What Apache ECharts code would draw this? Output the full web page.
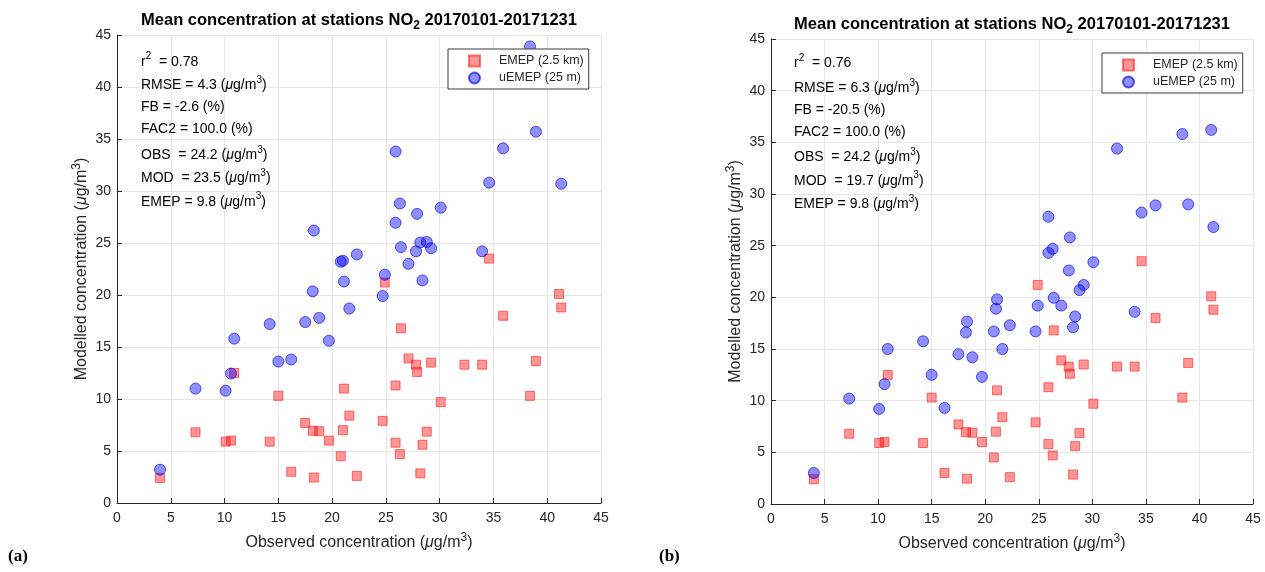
<!DOCTYPE html>
<html><head><meta charset="utf-8">
<script src="https://cdn.jsdelivr.net/npm/echarts@6/dist/echarts.min.js"></script>
<style>html,body{margin:0;padding:0;background:#fff}#c{width:1265px;height:572px}</style>
</head><body><div id="c"></div>
<script>
// ---- data ----
const obs = [4.0, 7.3, 10.1, 10.6, 10.9, 14.2, 15.0, 16.2, 17.5, 18.2, 18.3, 18.8, 19.7, 20.8, 21.0, 21.1, 21.6, 22.3, 24.7, 24.9,
             25.9, 25.9, 26.3, 26.4, 27.1, 27.8, 27.9, 28.2, 28.4, 28.8, 29.2, 30.1, 32.3, 33.95, 34.6, 35.9, 38.4, 38.95, 41.1, 41.3];
const emep = [2.4, 6.8, 5.9, 6.0, 12.5, 5.9, 10.3, 3.0, 7.7, 6.95, 2.45, 6.9, 6.0, 4.5, 7.0, 11.0, 8.4, 2.6, 7.9, 21.2,
              11.3, 5.8, 4.7, 16.8, 13.9, 13.3, 12.6, 2.85, 5.6, 6.86, 13.5, 9.7, 13.3, 13.3, 23.5, 18.0, 10.3, 13.65, 20.1, 18.8];
const uemepA = [3.2, 11.0, 10.8, 12.45, 15.8, 17.2, 13.6, 13.8, 17.4, 20.35, 26.2, 17.8, 15.6, 23.2, 23.3, 21.3, 18.7, 23.9, 19.9, 21.95,
                33.8, 26.95, 28.8, 24.6, 23.0, 24.2, 27.8, 25.05, 21.4, 25.1, 24.5, 28.4, 40.8, 24.2, 30.8, 34.1, 43.9, 35.7, 41.6, 30.7];
const uemepB = [3.0, 10.2, 9.2, 11.6, 15.0, 15.75, 12.5, 9.3, 14.5, 16.6, 17.65, 14.2, 12.3, 16.7, 18.9, 19.8, 15.0, 17.3, 16.7, 19.2,
                27.8, 24.3, 24.7, 19.95, 19.2, 22.6, 25.8, 17.1, 18.15, 20.7, 21.2, 23.4, 34.4, 18.6, 28.2, 28.9, 35.8, 29.0, 36.2, 26.8];
const seriesNames = ['EMEP (2.5 km)', 'uEMEP (25 m)'];
const axisMin = 0, axisMax = 45, axisStep = 5;
const titleStr = '{t|Mean concentration at stations NO}{sub|2}{t| 20170101-20171231}';
const xName = '{t|Observed concentration (}{mu|μ}{t|g/m}{sup|3}{t|)}';
const yName = '{t|Modelled concentration (}{mu|μ}{t|g/m}{sup|3}{t|)}';
const statsA = ['{t|r}{sup|2}{t|  = 0.78}', '{t|RMSE = 4.3 (}{mu|μ}{t|g/m}{sup|3}{t|)}', '{t|FB = -2.6 (%)}', '{t|FAC2 = 100.0 (%)}',
                '{t|OBS  = 24.2 (}{mu|μ}{t|g/m}{sup|3}{t|)}', '{t|MOD  = 23.5 (}{mu|μ}{t|g/m}{sup|3}{t|)}', '{t|EMEP = 9.8 (}{mu|μ}{t|g/m}{sup|3}{t|)}'];
const statsB = ['{t|r}{sup|2}{t|  = 0.76}', '{t|RMSE = 6.3 (}{mu|μ}{t|g/m}{sup|3}{t|)}', '{t|FB = -20.5 (%)}', '{t|FAC2 = 100.0 (%)}',
                '{t|OBS  = 24.2 (}{mu|μ}{t|g/m}{sup|3}{t|)}', '{t|MOD  = 19.7 (}{mu|μ}{t|g/m}{sup|3}{t|)}', '{t|EMEP = 9.8 (}{mu|μ}{t|g/m}{sup|3}{t|)}'];
const panelLabels = ['(a)', '(b)'];

// ---- styling / layout ----
const FF = '"Liberation Sans", Arial, Helvetica, sans-serif';
const TXT = '#262626';
const statsYA = [61.7, 85, 107.3, 129.3, 155, 178.3, 201.7];
const statsYB = [63.3, 88.3, 110, 131.7, 157.3, 180.7, 204];

function richSet(size, lh) {
  return {
    t: {fontFamily: FF, fontSize: size, color: TXT, lineHeight: lh},
    mu: {fontFamily: FF, fontSize: size, color: TXT, lineHeight: lh, fontStyle: 'italic'},
    sup: {fontFamily: FF, fontSize: Math.round(size * 0.72), color: TXT, lineHeight: Math.round(size * 0.8), verticalAlign: 'top'},
    sub: {fontFamily: FF, fontSize: Math.round(size * 0.72), color: TXT, lineHeight: Math.round(size * 0.6), verticalAlign: 'bottom'}
  };
}

function makeAxis(type, gi) {
  return {
    type: 'value', gridIndex: gi, min: axisMin, max: axisMax, interval: axisStep,
    name: type === 'x' ? xName : yName,
    nameLocation: 'middle', nameGap: type === 'x' ? 29 : 24,
    nameTextStyle: {rich: richSet(16, 22)},
    axisLine: {show: true, onZero: false, lineStyle: {color: TXT, width: 1}},
    axisTick: {show: true, inside: true, length: 5, lineStyle: {color: TXT}},
    axisLabel: {color: TXT, fontSize: 14, fontFamily: FF, margin: type === 'x' ? 8 : 6, showMinLabel: true, showMaxLabel: true},
    splitLine: {show: true, lineStyle: {color: '#e6e6e6', width: 1}}
  };
}

const redStyle = {color: 'rgba(255,0,0,0.52)', borderColor: 'rgba(255,30,30,0.75)', borderWidth: 1};
const blueStyle = {color: 'rgba(0,0,255,0.55)', borderColor: 'rgba(0,0,220,0.8)', borderWidth: 1};

function pairs(ys) { return obs.map((x, i) => [x, ys[i]]); }

function legendAt(left, top) {
  return {
    orient: 'vertical', left: left, top: top, padding: [5, 5, 4, 20], itemGap: 3,
    itemWidth: 11, itemHeight: 11, backgroundColor: '#fff', borderColor: '#3a3a3a', borderWidth: 1,
    selectedMode: false, z: 10,
    textStyle: {fontFamily: FF, fontSize: 12.5, color: TXT, lineHeight: 14, padding: [0, 0, 0, 14]},
    data: [{name: seriesNames[0], icon: 'rect'}, {name: seriesNames[1], icon: 'circle'}]
  };
}

const graphics = [];
function addText(x, y, text, rich, align) {
  graphics.push({type: 'text', x: x, y: y, z: 20, silent: true,
    style: {text: text, rich: rich, align: align || 'left', verticalAlign: 'middle'}});
}
const titleRich = richSet(16.5, 22);
titleRich.t.fontWeight = 'bold'; titleRich.sub.fontWeight = 'bold';
titleRich.t.color = '#000'; titleRich.sub.color = '#000';
addText(359, 20.5, titleStr, titleRich, 'center');
addText(1012, 24.5, titleStr, titleRich, 'center');
const statRich = richSet(14, 20);
statRich.t.color = '#000'; statRich.mu.color = '#000'; statRich.sup.color = '#000';
statsA.forEach((s, i) => addText(141, statsYA[i], s, statRich, 'left'));
statsB.forEach((s, i) => addText(794, statsYB[i], s, statRich, 'left'));
graphics.push({type: 'text', x: 8, y: 557, style: {text: panelLabels[0], font: 'bold 17px "Liberation Serif", "Times New Roman", serif', fill: '#000', verticalAlign: 'middle'}});
graphics.push({type: 'text', x: 659, y: 557, style: {text: panelLabels[1], font: 'bold 17px "Liberation Serif", "Times New Roman", serif', fill: '#000', verticalAlign: 'middle'}});

const option = {
  animation: false,
  backgroundColor: '#fff',
  grid: [
    {left: 117, top: 35, width: 484, height: 468},
    {left: 771, top: 39, width: 482, height: 465}
  ],
  xAxis: [makeAxis('x', 0), makeAxis('x', 1)],
  yAxis: [makeAxis('y', 0), makeAxis('y', 1)],
  legend: [legendAt(448, 49), legendAt(1102, 53)],
  series: [
    {name: seriesNames[0], type: 'scatter', xAxisIndex: 0, yAxisIndex: 0, symbol: 'rect', symbolSize: 9, itemStyle: redStyle, data: pairs(emep), z: 2},
    {name: seriesNames[1], type: 'scatter', xAxisIndex: 0, yAxisIndex: 0, symbol: 'circle', symbolSize: 11, itemStyle: blueStyle, data: pairs(uemepA), z: 3},
    {name: seriesNames[0], type: 'scatter', xAxisIndex: 1, yAxisIndex: 1, symbol: 'rect', symbolSize: 9, itemStyle: redStyle, data: pairs(emep), z: 2},
    {name: seriesNames[1], type: 'scatter', xAxisIndex: 1, yAxisIndex: 1, symbol: 'circle', symbolSize: 11, itemStyle: blueStyle, data: pairs(uemepB), z: 3}
  ],
  graphic: graphics
};
const chart = echarts.init(document.getElementById('c'), null, {renderer: 'canvas'});
chart.setOption(option);
</script></body></html>
